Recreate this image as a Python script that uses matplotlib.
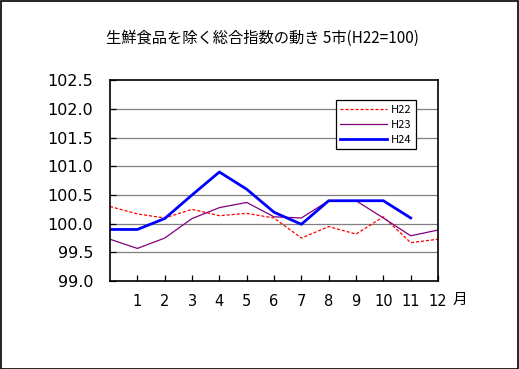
import matplotlib
matplotlib.use("Agg")
import matplotlib.pyplot as plt
from matplotlib.patches import Rectangle

# index values (H22=100), x = 0..12 (0 = previous December)
months = list(range(0, 13))
h22 = [100.3, 100.17, 100.1, 100.25, 100.14, 100.18, 100.1, 99.75, 99.95, 99.82, 100.12, 99.67, 99.73]
h23 = [99.73, 99.57, 99.75, 100.09, 100.28, 100.37, 100.12, 100.1, 100.4, 100.4, 100.1, 99.79, 99.89]
h24_x = list(range(0, 12))
h24 = [99.9, 99.9, 100.09, 100.5, 100.9, 100.6, 100.2, 99.99, 100.4, 100.4, 100.4, 100.1]
tick_months = list(range(1, 13))
yticks = [99.0, 99.5, 100.0, 100.5, 101.0, 101.5, 102.0, 102.5]

plt.rcParams['font.family'] = ['Noto Sans CJK JP', 'DejaVu Sans']

fig = plt.figure(figsize=(5.19, 3.69), dpi=100)
fig.patches.append(Rectangle((0.001, 0.001), 0.997, 0.996, transform=fig.transFigure,
                             fill=False, edgecolor='black', linewidth=1.2))

ax = fig.add_axes([0.212, 0.238, 0.632, 0.545])

for y in yticks[1:-1]:
    ax.axhline(y, color='#808080', linewidth=0.9, zorder=0)

ax.plot(months, h22, color='#FF0000', linestyle=(0, (2.5, 1.5)), linewidth=0.9, label='H22')
ax.plot(months, h23, color='#800080', linewidth=0.9, label='H23')
ax.plot(h24_x, h24, color='#0000FF', linewidth=2.0, label='H24')

ax.set_xlim(0, 12)
ax.set_ylim(99.0, 102.5)
ax.set_xticks(tick_months)
ax.set_xticklabels([str(m) for m in tick_months], fontsize=10.5, family='DejaVu Sans')
ax.set_yticks(yticks)
ax.set_yticklabels([f"{v:.1f}" for v in yticks], fontsize=11.5, family='DejaVu Sans')
ax.tick_params(direction='in', length=4, width=0.9)
ax.tick_params(axis='x', pad=9)
ax.tick_params(axis='y', pad=12)
for s in ax.spines.values():
    s.set_linewidth(1.2)

ax.text(12.8, 98.68, '月', fontsize=10.5, ha='center', va='center', clip_on=False)

fig.text(0.505, 0.897, '生鮮食品を除く総合指数の動き 5市(H22=100)', fontsize=11,
         ha='center', va='center')

leg = ax.legend(loc='upper left', bbox_to_anchor=(0.689, 0.90), borderaxespad=0,
                fontsize=8, frameon=True, fancybox=False, edgecolor='black', framealpha=1,
                handlelength=4.2, borderpad=0.4, labelspacing=0.45, handletextpad=0.3)
leg.get_frame().set_linewidth(0.9)

fig.savefig("out.png", dpi=100)
